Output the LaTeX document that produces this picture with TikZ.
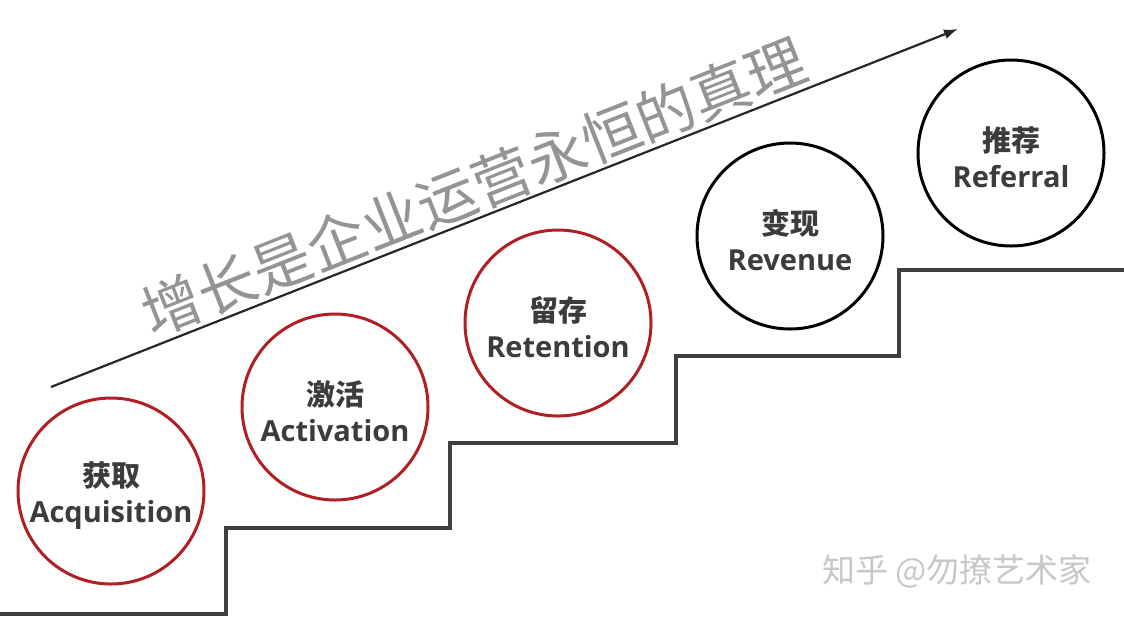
\documentclass[tikz,border=0pt]{standalone}
\usepackage{fontspec}
\setmainfont{Open Sans}
\newfontfamily\cjk{Noto Sans CJK SC}
\usepackage{tikz}
\usetikzlibrary{arrows.meta}
\definecolor{aarrred}{HTML}{B01F24}
\definecolor{aarrtext}{HTML}{3C3C3C}
\definecolor{aarrstair}{HTML}{404040}
\newcommand{\aarrcn}[1]{{\cjk\rule{0pt}{17pt}#1}}
\tikzset{
  aarrstage/.style={
    circle,
    inner sep=0pt,
    minimum size=93pt,
    align=center,
    text=aarrtext,
    font=\fontsize{14.5}{18}\selectfont\bfseries
  },
  aarrred/.style={aarrstage,draw=aarrred,line width=1.5pt},
  aarrblack/.style={aarrstage,draw=black,line width=1.5pt},
  aarrstairs/.style={line width=1.7pt,aarrstair,line join=miter},
  aarrgrow/.style={-{Latex[length=7pt,width=5pt]},line width=1.1pt,black!85},
  aarrtitle/.style={font=\cjk\fontsize{29.5}{29.5}\selectfont,text=black!42,
                    inner sep=0pt},
  aarrmark/.style={font=\cjk\fontsize{16.5}{16.5}\selectfont,text=black!22,
                   inner sep=0pt}
}

\begin{document}
\begin{tikzpicture}[x=0.5pt,y=-0.5pt]
  \useasboundingbox (0,0) rectangle (1124,618);

  \draw[aarrstairs] (0,614) -- (226,614) -- (226,528) -- (450,528)
    -- (450,443) -- (676,443) -- (676,356) -- (899,356) -- (899,270)
    -- (1124,270);

  \coordinate (growstart) at (51,387);
  \coordinate (growend) at (958,29);
  \draw[aarrgrow] (growstart) -- (growend);

  \node[aarrtitle,rotate=21.5] (motto) at (474,187)
    {增长是企业运营永恒的真理};

  \node[aarrred] (acquisition) at (111,491)
    {\aarrcn{获取}\\Acquisition};
  \node[aarrred] (activation) at (335,407)
    {\aarrcn{激活}\\Activation};
  \node[aarrred] (retention) at (558,323)
    {\aarrcn{留存}\\Retention};
  \node[aarrblack] (revenue) at (790,236)
    {\aarrcn{变现}\\Revenue};
  \node[aarrblack] (referral) at (1011,153)
    {\aarrcn{推荐}\\Referral};

  \node[aarrmark] (watermark) at (957,571) {知乎 @勿撩艺术家};
\end{tikzpicture}
\end{document}
